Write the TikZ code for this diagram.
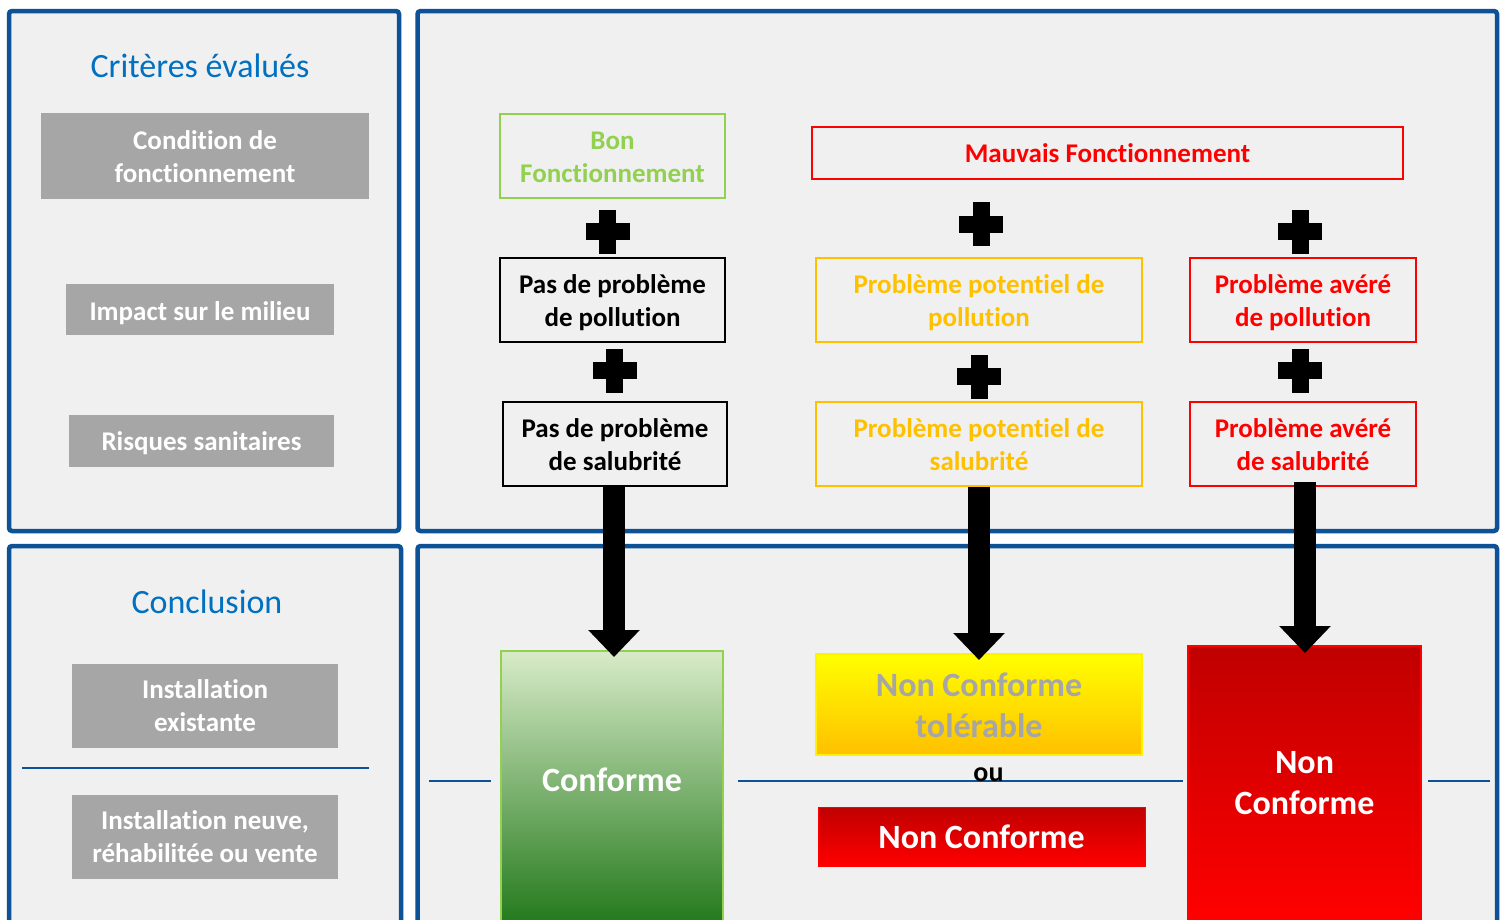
\documentclass[tikz,border=0pt]{standalone}
\usepackage{fontspec}
\setmainfont{Carlito}[Ligatures=NoCommon]
\usetikzlibrary{arrows.meta}
\definecolor{frameblue}{HTML}{0D5197}
\definecolor{panelbg}{HTML}{F0F0F0}
\definecolor{titleblue}{HTML}{0070C0}
\definecolor{boxgray}{HTML}{A6A6A6}
\definecolor{okgreen}{HTML}{92D050}
\definecolor{warnorange}{HTML}{FFC000}
\definecolor{badred}{HTML}{FF0000}
\definecolor{darkred}{HTML}{C00000}
\definecolor{lightgreen}{HTML}{D8EBC8}
\definecolor{deepgreen}{HTML}{247A1C}
\newcommand\shiftdn[2]{\raisebox{#1}[\height][\depth]{\begin{tabular}{@{}c@{}}#2\end{tabular}}}
\begin{document}
\begin{tikzpicture}[x=1pt,y=-1pt,
  panel/.style={draw=frameblue, line width=4.5pt, fill=panelbg, rounded corners=3pt},
  paneltitle/.style={text=titleblue, font=\fontsize{34}{40}\selectfont},
  graybox/.style={fill=boxgray, text=white, align=center, inner sep=0pt,
     font=\fontsize{27}{33}\selectfont\bfseries},
  critbox/.style={draw=#1, line width=2pt, fill=panelbg, text=#1, align=center, inner sep=0pt,
     font=\fontsize{27}{33}\selectfont\bfseries},
  bigtext/.style={align=center, inner sep=0pt, font=\fontsize{34}{41}\selectfont\bfseries},
  sepline/.style={draw=frameblue, line width=2pt},
  fatarrow/.style={draw=black, line width=22pt, -{Triangle[width=50pt,length=27pt]}},
  plusmark/.pic={\fill[black] (-22,-8.5) rectangle (22,8.5); \fill[black] (-8.5,-22) rectangle (8.5,22);}
]
\useasboundingbox (0,0) rectangle (1502,919);
\clip (0,0) rectangle (1502,919);
\fill[white] (0,0) rectangle (1502,919);

% panels
\draw[panel] (9,11) rectangle (399,531);
\draw[panel] (417.5,11) rectangle (1497,531);
\draw[panel] (9,546) rectangle (401,960);
\draw[panel] (417.5,546) rectangle (1497,960);

% left column: criteria
\node[paneltitle] (crit) at (200,66) {Critères évalués};
\node[graybox, minimum width=328pt, minimum height=86pt] (g1) at (205,156) {\shiftdn{-3pt}{Condition de\\fonctionnement}};
\node[graybox, minimum width=268pt, minimum height=51pt] (g2) at (200,309.5) {\shiftdn{-4pt}{Impact sur le milieu}};
\node[graybox, minimum width=265pt, minimum height=52pt] (g3) at (201.5,441) {\shiftdn{-3pt}{Risques sanitaires}};

% left column: conclusion
\node[paneltitle] (concl) at (207,602) {Conclusion};
\node[graybox, minimum width=266pt, minimum height=84pt] (g4) at (205,706) {Installation\\existante};
\node[graybox, minimum width=266pt, minimum height=84pt] (g5) at (205,837) {Installation neuve,\\réhabilitée ou vente};
\coordinate (l0a) at (22,768);
\coordinate (l0b) at (369,768);
\draw[sepline] (l0a) -- (l0b);

% top right: criteria boxes
\node[critbox=okgreen, minimum width=225pt, minimum height=84pt] (bon) at (612.5,156) {\shiftdn{-3pt}{Bon\\Fonctionnement}};
\node[critbox=badred, minimum width=591pt, minimum height=52pt] (mauv) at (1107.5,153) {Mauvais Fonctionnement};

\node[critbox=black, minimum width=225pt, minimum height=84pt] (pol1) at (612.5,300) {\shiftdn{-3pt}{Pas de problème\\de pollution}};
\node[critbox=black, minimum width=224pt, minimum height=84pt] (sal1) at (615,444) {\shiftdn{-3pt}{Pas de problème\\de salubrité}};
\node[critbox=warnorange, minimum width=326pt, minimum height=84pt] (pol2) at (979,300) {\shiftdn{-3pt}{Problème potentiel de\\pollution}};
\node[critbox=warnorange, minimum width=326pt, minimum height=84pt] (sal2) at (979,444) {\shiftdn{-3pt}{Problème potentiel de\\salubrité}};
\node[critbox=badred, minimum width=226pt, minimum height=84pt] (pol3) at (1303,300) {\shiftdn{-3pt}{Problème avéré\\de pollution}};
\node[critbox=badred, minimum width=226pt, minimum height=84pt] (sal3) at (1303,444) {\shiftdn{-3pt}{Problème avéré\\de salubrité}};

% plus signs
\pic at (607.5,231.5) {plusmark};
\pic at (981,224) {plusmark};
\pic at (1300,231.5) {plusmark};
\pic at (614.5,370.5) {plusmark};
\pic at (979,376.5) {plusmark};
\pic at (1300,370.5) {plusmark};

% bottom right: conclusion boxes
\coordinate (s1a) at (429,781);
\coordinate (s1b) at (491,781);
\coordinate (s2a) at (738,781);
\coordinate (s2b) at (1183,781);
\coordinate (s3a) at (1428,781);
\coordinate (s3b) at (1490,781);
\draw[sepline] (s1a) -- (s1b);
\draw[sepline] (s2a) -- (s2b);
\draw[sepline] (s3a) -- (s3b);

\node[draw=okgreen, line width=1.5pt, top color=lightgreen, bottom color=deepgreen,
      minimum width=222pt, minimum height=272pt, text=white, bigtext] (conf) at (612,787)
      {\shiftdn{3.5pt}{Conforme}};
\node[draw=yellow, line width=1.5pt, top color=yellow, bottom color=warnorange,
      minimum width=326pt, minimum height=101pt, text=boxgray, bigtext] (tol) at (979,704.5)
      {\shiftdn{-4pt}{Non Conforme\\tolérable}};
\node[draw=badred, line width=1pt, top color=darkred, bottom color=badred,
      minimum width=327pt, minimum height=59pt, text=white, bigtext] (nc) at (981.5,836.5)
      {Non Conforme};
\node[draw=badred, line width=1.5pt, top color=darkred, bottom color=badred,
      minimum width=233pt, minimum height=274pt, text=white, bigtext] (ncbig) at (1304.5,783)
      {Non\\Conforme};
\node[inner sep=0pt, anchor=base, font=\fontsize{28}{28}\selectfont\bfseries] (ou) at (988.5,781) {ou};

% arrows
\coordinate (t1) at (614,657);
\coordinate (t2) at (979,660);
\coordinate (t3) at (1305,653);
\coordinate (a3) at (1305,482);
\draw[fatarrow] (sal1.south -| t1) -- (t1);
\draw[fatarrow] (sal2.south) -- (t2);
\draw[fatarrow] (a3) -- (t3);
\end{tikzpicture}
\end{document}
